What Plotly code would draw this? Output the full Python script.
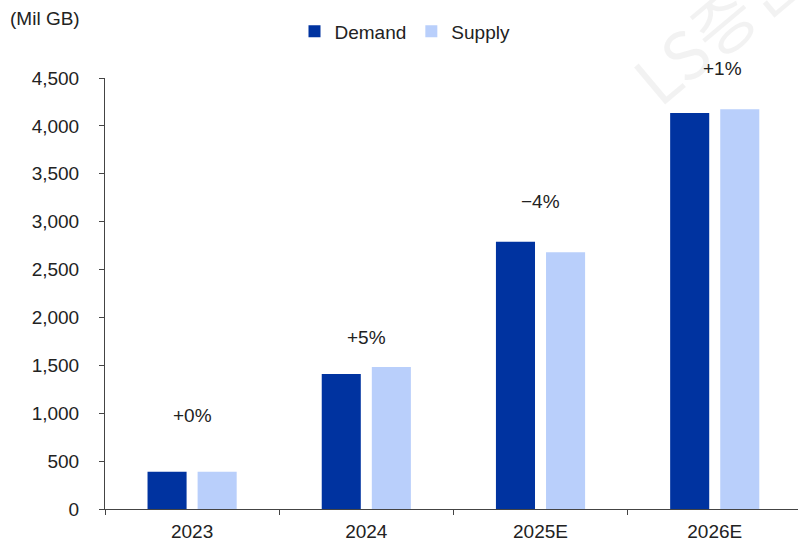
import plotly.graph_objects as go

# DRAM bit demand vs. supply (million GB)
years = ["2023", "2024", "2025E", "2026E"]
demand = [390, 1410, 2790, 4135]
supply = [390, 1483, 2680, 4175]
gap_labels = ["+0%", "+5%", "\u22124%", "+1%"]
label_heights = [975, 1790, 3215, 4600]

Y_MAX = 4500
FONT = "Liberation Sans, Arial, sans-serif"
TXT = "#222222"
FS = 19

fig = go.Figure()
fig.add_trace(go.Bar(name="Demand", x=years, y=demand, marker=dict(color="#0033A0", line_width=0)))
fig.add_trace(go.Bar(name="Supply", x=years, y=supply, marker=dict(color="#B9CFFB", line_width=0)))

# supply/demand gap labels above each year; heights expressed as a fraction of the
# y range so the last one may sit above the plot area
for i, (lab, h) in enumerate(zip(gap_labels, label_heights)):
    fig.add_annotation(x=i, y=h / Y_MAX, yref="paper", text=lab, showarrow=False,
                       xanchor="center", yanchor="middle",
                       font=dict(family=FONT, size=FS, color=TXT), xshift=(8 if lab == "+1%" else 0))

L, T, B = 105, 78, 30
W, H = 798, 542
pw, ph = W - L, H - T - B

# unit label
fig.add_annotation(xref="paper", yref="paper", x=(8 - L) / pw, y=(H - B - 18) / ph,
                   text="(Mil GB)", showarrow=False, xanchor="left", yanchor="middle",
                   font=dict(family=FONT, size=FS, color=TXT))
# faint watermark running off the top-right corner
fig.add_annotation(xref="paper", yref="paper", x=(716 - L) / pw, y=(H - B - 24) / ph,
                   text="LS증권", showarrow=False, textangle=-40, xanchor="center", yanchor="middle",
                   font=dict(family="Noto Sans CJK KR, sans-serif", size=66, color="rgba(0,0,0,0.05)"))

fig.update_layout(
    width=W, height=H,
    margin=dict(l=L, r=0, t=T, b=B, pad=0),
    paper_bgcolor="white", plot_bgcolor="white",
    barmode="group", bargap=0.425, bargroupgap=0.22,
    font=dict(family=FONT, size=FS, color=TXT),
    showlegend=True,
    legend=dict(orientation="h", x=(405 - L) / pw, y=(H - B - 31) / ph, xanchor="center", yanchor="middle",
                font=dict(family=FONT, size=FS, color=TXT), itemwidth=30, tracegroupgap=0,
                bgcolor="rgba(0,0,0,0)"),
    xaxis=dict(type="category", range=[-0.5, 3.478], showline=True, linecolor="#444444", linewidth=1,
               ticks="outside", tickson="boundaries", ticklen=5, tickcolor="#444444",
               showgrid=False, zeroline=False, ticklabelstandoff=5,
               tickfont=dict(family=FONT, size=FS, color=TXT)),
    yaxis=dict(range=[0, Y_MAX], dtick=500, tickformat=",", showline=True, linecolor="#444444", linewidth=1,
               ticks="outside", ticklen=5, tickcolor="#444444", showgrid=False, zeroline=False,
               ticklabelstandoff=16, tickfont=dict(family=FONT, size=FS, color=TXT)),
)

fig.write_html("out.html")
